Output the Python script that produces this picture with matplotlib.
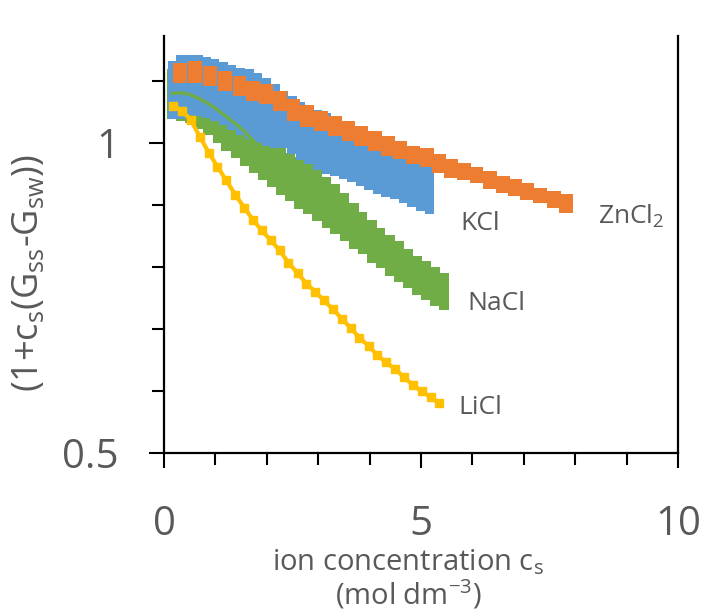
import numpy as np
import matplotlib.pyplot as plt
from matplotlib.ticker import FixedLocator, FixedFormatter, NullFormatter

plt.rcParams['font.family'] = ['Open Sans', 'DejaVu Sans']
plt.rcParams['mathtext.fontset'] = 'custom'
plt.rcParams['mathtext.rm'] = 'Open Sans'
plt.rcParams['mathtext.default'] = 'regular'

# KCl band (lower / upper edge per point)
kcl_x = [0.16, 0.32, 0.49, 0.66, 0.82, 0.99, 1.16, 1.32, 1.49, 1.66, 1.82, 1.99, 2.16, 2.32, 2.49, 2.66,
         2.82, 2.99, 3.16, 3.32, 3.49, 3.66, 3.82, 3.99, 4.16, 4.32, 4.49, 4.66, 4.82, 4.99, 5.16]
kcl_hi = [1.201, 1.217, 1.217, 1.217, 1.211, 1.206, 1.198, 1.190, 1.182, 1.179, 1.169, 1.156, 1.141, 1.123,
          1.111, 1.096, 1.086, 1.076, 1.069, 1.055, 1.043, 1.034, 1.025, 1.016, 1.007, 0.998, 0.989, 0.980,
          0.971, 0.965, 0.956]
kcl_lo = [1.055, 1.055, 1.064, 1.062, 1.057, 1.050, 1.041, 1.029, 1.018, 1.009, 1.000, 0.993, 0.989, 0.987,
          0.974, 0.963, 0.954, 0.941, 0.933, 0.929, 0.923, 0.915, 0.908, 0.900, 0.892, 0.886, 0.881, 0.873,
          0.867, 0.859, 0.853]

# NaCl band + curve
nacl_x = [0.16, 0.33, 0.51, 0.69, 0.86, 1.04, 1.21, 1.39, 1.57, 1.74, 1.92, 2.10, 2.27, 2.45, 2.63, 2.80,
          2.98, 3.16, 3.33, 3.51, 3.69, 3.86, 4.04, 4.21, 4.39, 4.57, 4.74, 4.92, 5.10, 5.27, 5.45]
nacl_hi = [1.179, 1.177, 1.169, 1.159, 1.143, 1.128, 1.111, 1.093, 1.074, 1.057, 1.036, 1.013, 0.993, 0.978,
           0.969, 0.958, 0.944, 0.927, 0.911, 0.894, 0.873, 0.857, 0.842, 0.827, 0.813, 0.802, 0.789, 0.777,
           0.767, 0.757, 0.747]
nacl_lo = [1.055, 1.050, 1.046, 1.032, 1.018, 1.000, 0.982, 0.967, 0.950, 0.935, 0.919, 0.905, 0.890, 0.877,
           0.863, 0.852, 0.840, 0.827, 0.815, 0.802, 0.789, 0.779, 0.765, 0.755, 0.743, 0.733, 0.722, 0.711,
           0.703, 0.695, 0.688]
nacl_line = [1.116, 1.118, 1.113, 1.103, 1.091, 1.076, 1.060, 1.043, 1.025, 1.004, 0.987, 0.969, 0.952, 0.935,
             0.919, 0.905, 0.890, 0.877, 0.861, 0.848, 0.831, 0.818, 0.804, 0.791, 0.777, 0.767, 0.755, 0.743,
             0.735, 0.725, 0.717]

# ZnCl2 band
zn_x = [0.32, 0.61, 0.89, 1.18, 1.47, 1.74, 1.99, 2.26, 2.52, 2.79, 3.06, 3.33, 3.59, 3.84, 4.11, 4.35,
        4.59, 4.85, 5.11, 5.35, 5.59, 5.84, 6.08, 6.34, 6.59, 6.83, 7.07, 7.32, 7.58, 7.82]
zn_hi = [1.195, 1.201, 1.187, 1.174, 1.161, 1.148, 1.141, 1.123, 1.103, 1.088, 1.074, 1.062, 1.050, 1.039,
         1.027, 1.016, 1.004, 0.993, 0.987, 0.976, 0.965, 0.956, 0.946, 0.939, 0.929, 0.923, 0.913, 0.904,
         0.898, 0.892]
zn_lo = [1.143, 1.143, 1.136, 1.123, 1.111, 1.098, 1.091, 1.074, 1.050, 1.036, 1.027, 1.016, 1.004, 0.993,
         0.982, 0.971, 0.965, 0.954, 0.946, 0.935, 0.925, 0.919, 0.913, 0.902, 0.894, 0.888, 0.879, 0.873,
         0.865, 0.855]

# LiCl line
li_x = [0.18, 0.35, 0.52, 0.70, 0.87, 1.04, 1.21, 1.39, 1.56, 1.73, 1.90, 2.08, 2.25, 2.42, 2.60, 2.77,
        2.94, 3.11, 3.29, 3.46, 3.63, 3.80, 3.98, 4.15, 4.32, 4.50, 4.67, 4.84, 5.01, 5.19, 5.36]
li_y = [1.086, 1.074, 1.052, 1.013, 0.978, 0.948, 0.919, 0.890, 0.865, 0.842, 0.822, 0.804, 0.786, 0.765,
        0.747, 0.730, 0.717, 0.703, 0.689, 0.675, 0.661, 0.647, 0.635, 0.622, 0.612, 0.603, 0.592, 0.582,
        0.574, 0.566, 0.559]

blue, orange, green, yellow = '#5B9BD5', '#ED7D31', '#70AD47', '#FFC000'
grey = '#595959'

fig = plt.figure(figsize=(7.02, 6.12), dpi=100)
ax = fig.add_axes([0.2336, 0.2598, 0.7322, 0.6820])
ax.set_yscale('log', base=2)


def band(x, lo, hi, w, color, z):
    lo = np.array(lo)
    hi = np.array(hi)
    ax.bar(x, hi - lo, bottom=lo, width=w, color=color, linewidth=0,
           antialiased=False, zorder=z)


band(nacl_x, nacl_lo, nacl_hi, 0.19, green, 2)
band(kcl_x, kcl_lo, kcl_hi, 0.18, blue, 3)
band(zn_x, zn_lo, zn_hi, 0.27, orange, 4)
ax.plot(nacl_x, nacl_line, color=green, lw=2.4, zorder=5)
ax.plot(li_x, li_y, color=yellow, lw=3, marker='s', ms=6, mec=yellow, zorder=6)

# series labels
lab = dict(color=grey, fontsize=19, va='baseline', ha='left')
ax.text(5.76, 0.822, 'KCl', **lab)
ax.text(8.44, 0.835, 'ZnCl$_2$', **lab)
ax.text(5.91, 0.688, 'NaCl', **lab)
ax.text(5.72, 0.545, 'LiCl', **lab)

ax.set_xlim(0, 10)
ax.set_ylim(0.5, 1.27)

ax.xaxis.set_major_locator(FixedLocator([0, 5, 10]))
ax.xaxis.set_minor_locator(FixedLocator(np.arange(1, 10)))
ax.yaxis.set_major_locator(FixedLocator([0.5, 1.0]))
ax.yaxis.set_major_formatter(FixedFormatter(['0.5', '1']))
ax.yaxis.set_minor_locator(FixedLocator([0.5 * 2 ** (k / 5) for k in range(1, 10) if k != 5]))
ax.yaxis.set_minor_formatter(NullFormatter())

ax.tick_params(axis='x', which='major', direction='out', length=11, width=1.5,
               labelsize=29, labelcolor=grey, pad=26)
ax.tick_params(axis='x', which='minor', direction='out', length=8.5, width=1.5)
ax.tick_params(axis='y', which='major', direction='out', length=10.5, width=1.5,
               labelsize=29, labelcolor=grey, pad=22)
ax.tick_params(axis='y', which='minor', direction='out', length=8.5, width=1.5)

ax.spines['top'].set_visible(False)
for s in ['left', 'bottom', 'right']:
    ax.spines[s].set_linewidth(1.6)
    ax.spines[s].set_color('black')

ax.set_ylabel('(1+c$_s$(G$_{ss}$-G$_{sw}$))', fontsize=26, color=grey)
ax.yaxis.set_label_coords(-0.228, 0.43)
ax.set_xlabel('ion concentration c$_s$\n(mol dm$^{-3}$)', fontsize=21, color=grey, linespacing=1.05)
ax.xaxis.set_label_coords(0.475, -0.225)

fig.savefig('out.png', dpi=100)
